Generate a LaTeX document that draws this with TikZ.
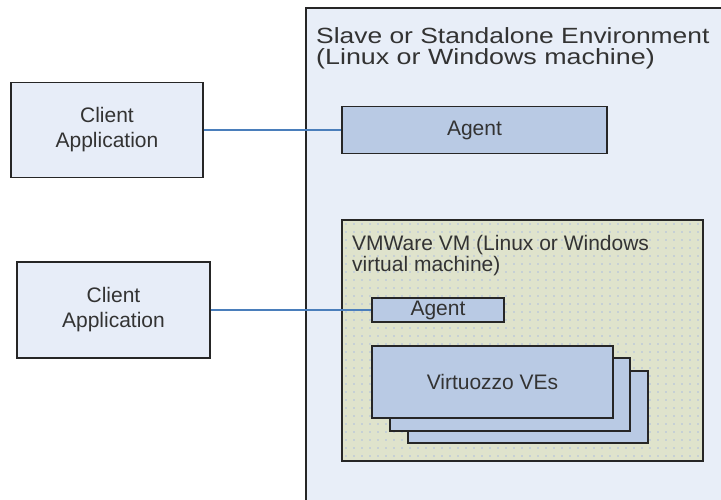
\documentclass[tikz,border=0pt]{standalone}
\usepackage{fontspec}
\setmainfont{Liberation Sans}
\definecolor{envfill}{HTML}{E8EEF8}
\definecolor{clientfill}{HTML}{E7EDF8}
\definecolor{agentfill}{HTML}{B9CAE4}
\definecolor{vmfill}{HTML}{DFE3CC}
\definecolor{dotcol}{HTML}{AEBDE0}
\definecolor{linkcol}{HTML}{4A7EBB}
\definecolor{txt}{HTML}{333333}
\definecolor{edge}{HTML}{262626}
\tikzset{
  clientbox/.style={draw=edge, line width=1.4pt, fill=clientfill, align=center, text=txt,
    font=\fontsize{21}{25}\selectfont, inner sep=0pt},
  agentbox/.style={draw=edge, line width=1.8pt, fill=agentfill, text=txt,
    font=\fontsize{21}{25}\selectfont, inner sep=0pt},
  link/.style={draw=linkcol, line width=1.3pt},
  title/.style={text=txt, inner sep=0pt, align=left, anchor=north west}
}
\begin{document}
\begin{tikzpicture}[x=1pt,y=-1pt]
\useasboundingbox (0,0) rectangle (721,499);
\clip (0,0) rectangle (721,499);
\fill[white] (0,0) rectangle (721,499);
% environment
\draw[draw=edge, line width=1.6pt, fill=envfill] (306,8) rectangle (740,520);
\node[title, font=\fontsize{22}{21}\selectfont] (envtitle) at (316,27)
  {\scalebox{1.2}[1]{Slave or Standalone Environment}\\\scalebox{1.22}[1]{(Linux or Windows machine)}};
% VM box
\fill[vmfill] (342,220) rectangle (703,461);
\begin{scope}
\clip (342,220) rectangle (703,461);
\foreach \i in {0,...,45} {
  \foreach \j in {0,...,30} {
    \fill[dotcol] (346+8*\i, 224+8*\j) circle (0.9pt);
  }
}
\end{scope}
\draw[draw=edge, line width=1.6pt] (342,220) rectangle (703,461);
\node[title, font=\fontsize{21}{21}\selectfont] (vmtitle) at (352,235)
  {VMWare VM (Linux or Windows\\virtual machine)};
% clients
\node[clientbox, minimum width=192pt, minimum height=95pt] (c1) at (107,130) {Client\\Application};
\node[clientbox, minimum width=193pt, minimum height=96pt] (c2) at (113.5,310) {Client\\Application};
% agents
\node[agentbox, minimum width=265pt, minimum height=47pt] (a1) at (474.5,130) {Agent};
\node[agentbox, minimum width=132pt, minimum height=24pt] (a2) at (438,310) {Agent};
% VEs stack
\node[agentbox, minimum width=240pt, minimum height=72pt] (ve3) at (528,407) {};
\node[agentbox, minimum width=240pt, minimum height=73pt] (ve2) at (510,394.5) {};
\node[agentbox, minimum width=241pt, minimum height=72pt] (ve1) at (492.5,382) {Virtuozzo VEs};
% connectors
\draw[link] (c1.east) -- (a1.west);
\draw[link] (c2.east) -- (a2.west);
\end{tikzpicture}
\end{document}
